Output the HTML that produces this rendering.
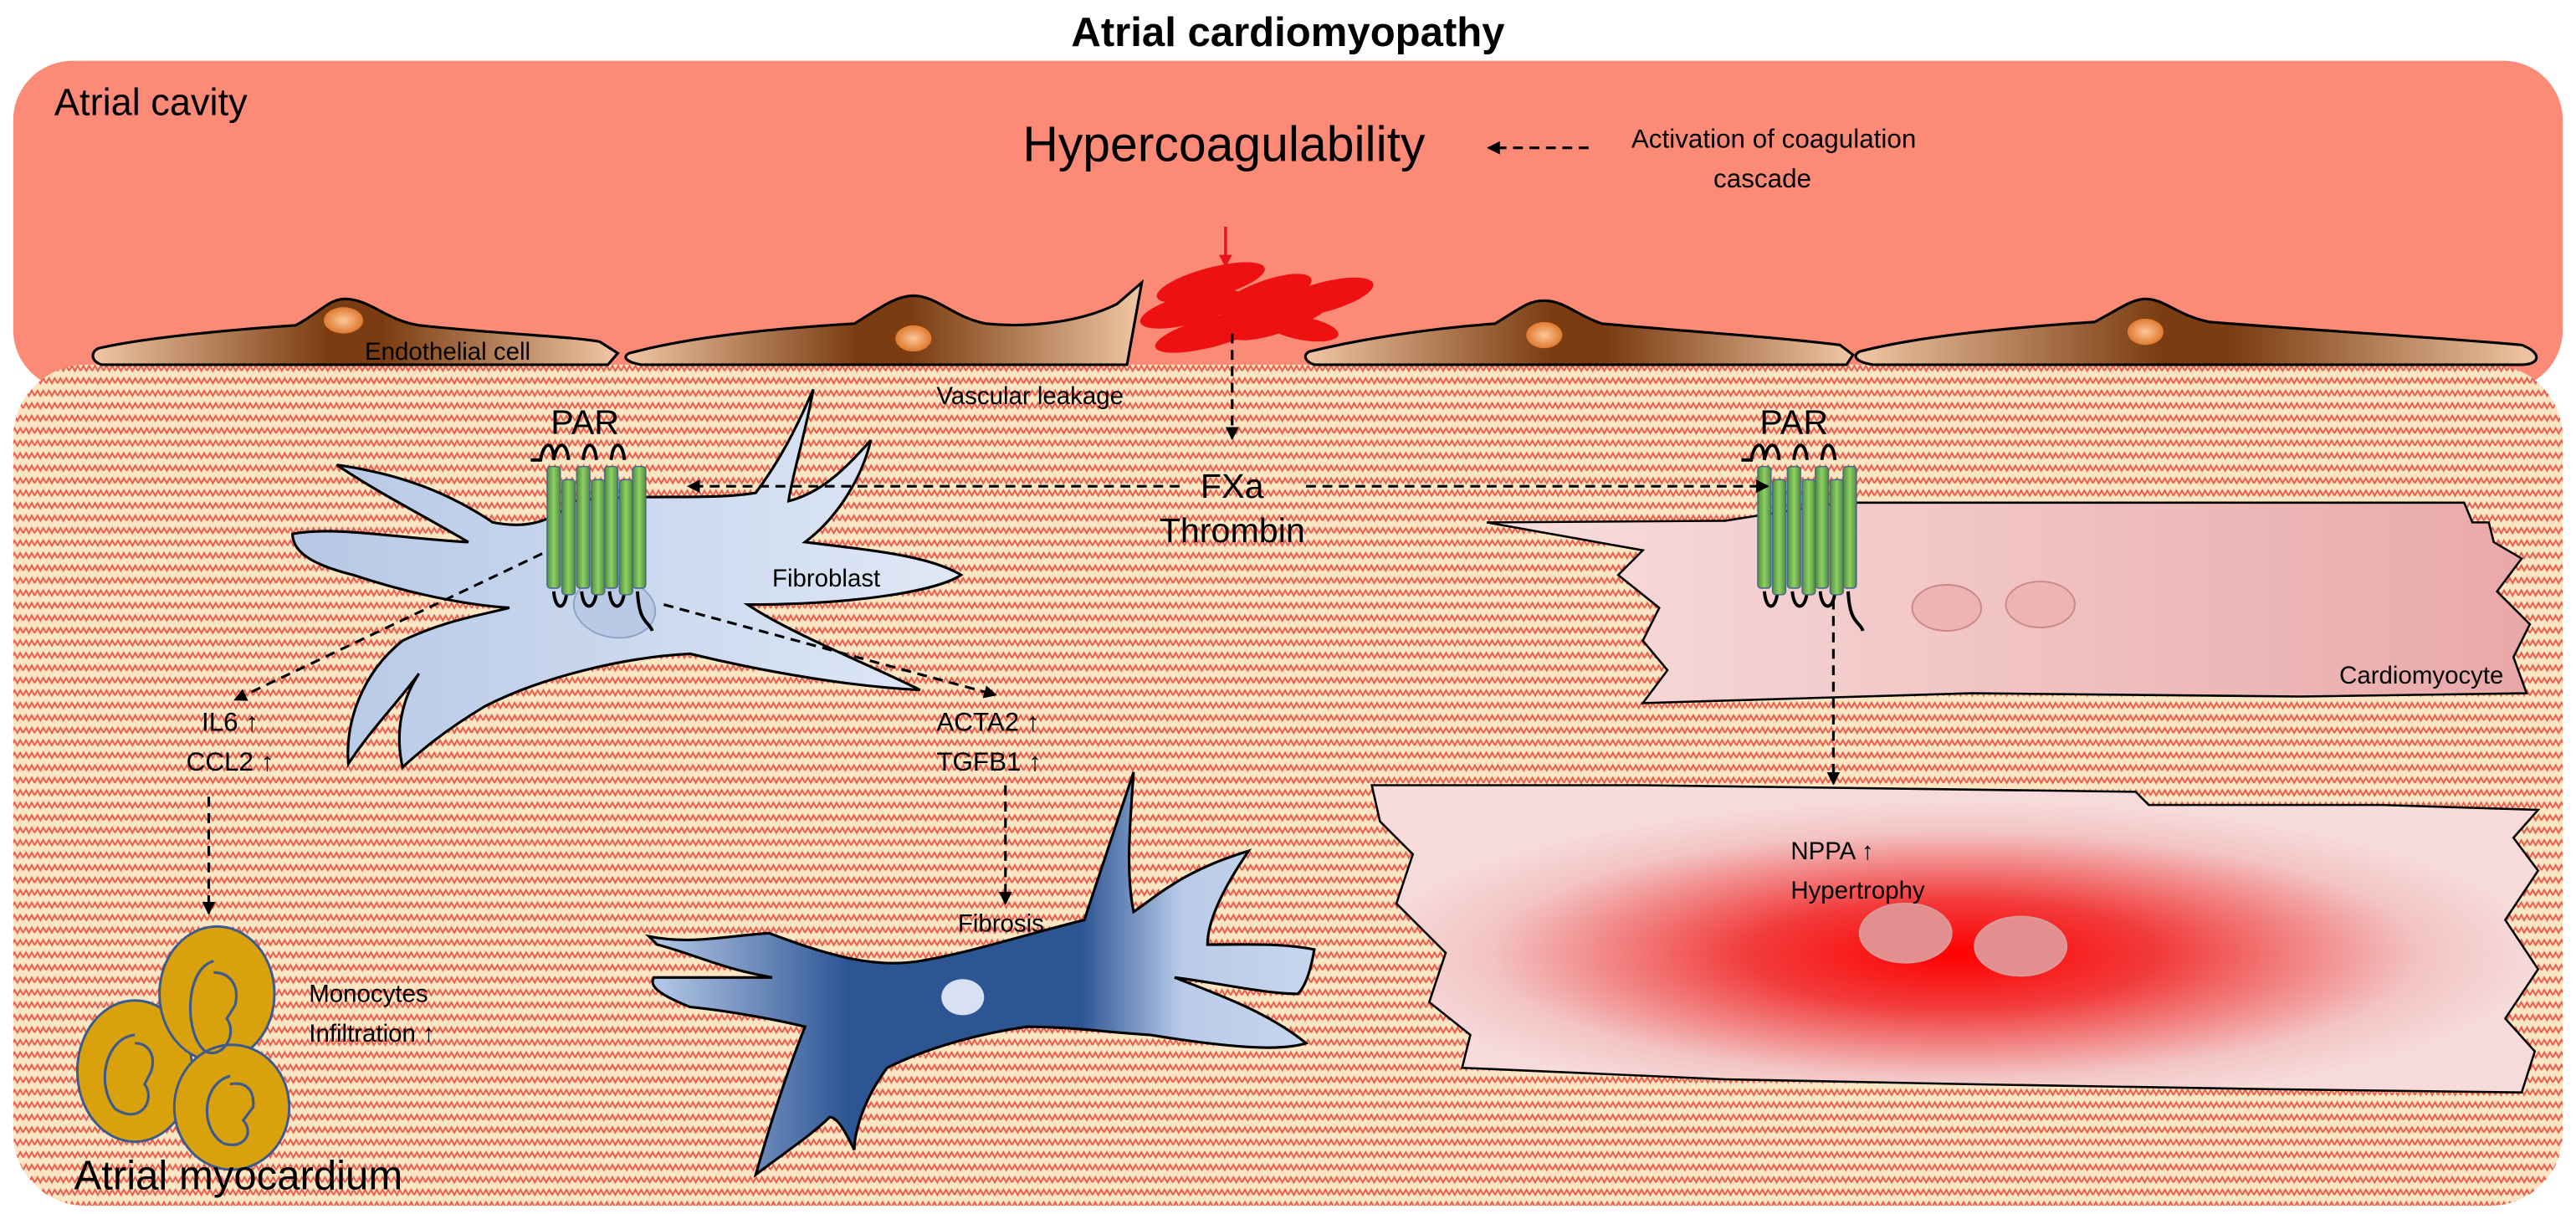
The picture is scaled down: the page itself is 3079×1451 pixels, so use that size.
<!DOCTYPE html>
<html><head><meta charset="utf-8"><style>
html,body{margin:0;padding:0;background:#fff;}
svg{display:block;}
text{font-family:"Liberation Sans",sans-serif;fill:#000;}
</style></head><body>
<svg width="3079" height="1451" viewBox="0 0 1568 739" xmlns="http://www.w3.org/2000/svg">
<defs>
<pattern id="zz" width="7" height="7.6" patternUnits="userSpaceOnUse">
<rect width="7" height="7.6" fill="#fbe6c4"/>
<path d="M0,5.4 L1.75,2.2 L3.5,5.4 L5.25,2.2 L7,5.4" fill="none" stroke="#ee5a4a" stroke-width="1"/>
</pattern>
<linearGradient id="endo" x1="0" x2="1" y1="0" y2="0">
<stop offset="0" stop-color="#f0c7a5"/><stop offset="0.45" stop-color="#7a3c10"/><stop offset="0.55" stop-color="#7a3c10"/><stop offset="1" stop-color="#f0c7a5"/>
</linearGradient>
<radialGradient id="nuc"><stop offset="0" stop-color="#fbc79a"/><stop offset="1" stop-color="#e07a30"/></radialGradient>
<linearGradient id="fib1" x1="0" x2="1"><stop offset="0" stop-color="#b6c8e6"/><stop offset="1" stop-color="#dfe8f6"/></linearGradient>
<linearGradient id="fib2" x1="0" x2="1"><stop offset="0" stop-color="#b9cbe9"/><stop offset="0.3" stop-color="#2d5594"/><stop offset="0.65" stop-color="#2d5594"/><stop offset="0.8" stop-color="#b9cbe9"/><stop offset="1" stop-color="#c7d6ef"/></linearGradient>
<linearGradient id="cm1" x1="0" x2="1"><stop offset="0" stop-color="#f8dede"/><stop offset="1" stop-color="#e9a8a8"/></linearGradient>
<radialGradient id="cm2" cx="0.5" cy="0.55" r="0.5"><stop offset="0" stop-color="#ff0000"/><stop offset="0.35" stop-color="#f23b3b"/><stop offset="0.8" stop-color="#f3c4c4"/><stop offset="1" stop-color="#f7dada"/></radialGradient>
<linearGradient id="grn" x1="0" x2="1"><stop offset="0" stop-color="#4f8f35"/><stop offset="0.5" stop-color="#8fcf6a"/><stop offset="1" stop-color="#4f8f35"/></linearGradient>
<marker id="ah" markerWidth="8" markerHeight="8" refX="7" refY="4" orient="auto" markerUnits="userSpaceOnUse"><path d="M0,0 L8,4 L0,8 Z" fill="#000"/></marker>
<marker id="ahr" markerWidth="8" markerHeight="8" refX="7" refY="4" orient="auto" markerUnits="userSpaceOnUse"><path d="M0,0 L8,4 L0,8 Z" fill="#e8141a"/></marker>
<g id="par">
<path d="M-32,-8 L-26,-8 C-24,-20 -18,-20 -18,-8 M-18,-8 C-16,-20 -10,-20 -9,-8 M0,-8 C1,-20 7,-20 8,-8 M17,-8 C18,-20 24,-20 25,-8" fill="none" stroke="#000" stroke-width="2"/>
<path d="M-18,72 C-17,84 -11,84 -10,72 M-1,72 C0,84 7,84 8,72 M16,72 C17,84 24,84 25,72 M33,72 C34,92 40,90 42,96" fill="none" stroke="#000" stroke-width="2"/>
<rect x="-22" y="-4" width="8" height="74" rx="2" fill="url(#grn)" stroke="#4a6a8a" stroke-width="0.8"/>
<rect x="-13" y="4" width="8" height="70" rx="2" fill="url(#grn)" stroke="#4a6a8a" stroke-width="0.8"/>
<rect x="-4" y="-4" width="8" height="74" rx="2" fill="url(#grn)" stroke="#4a6a8a" stroke-width="0.8"/>
<rect x="5" y="4" width="8" height="70" rx="2" fill="url(#grn)" stroke="#4a6a8a" stroke-width="0.8"/>
<rect x="13" y="-4" width="8" height="74" rx="2" fill="url(#grn)" stroke="#4a6a8a" stroke-width="0.8"/>
<rect x="22" y="4" width="8" height="70" rx="2" fill="url(#grn)" stroke="#4a6a8a" stroke-width="0.8"/>
<rect x="30" y="-4" width="8" height="74" rx="2" fill="url(#grn)" stroke="#4a6a8a" stroke-width="0.8"/>
</g>
</defs>

<text x="784" y="28" font-size="25" font-weight="bold" text-anchor="middle">Atrial cardiomyopathy</text>

<rect x="8" y="37" width="1552" height="200" rx="36" fill="#fb8a77"/>
<rect x="8" y="222" width="1552" height="512" rx="44" fill="url(#zz)"/>

<!-- endothelial cells -->
<path d="M60,212 C90,205 150,200 180,198 C195,190 200,182 210,182 C225,182 235,195 255,198 C300,203 350,205 365,208 L376,215 L370,222 L62,222 C55,220 55,214 60,212Z" fill="url(#endo)" stroke="#000" stroke-width="1.6"/>
<ellipse cx="209" cy="195" rx="12" ry="8" fill="url(#nuc)"/>
<path d="M383,215 C420,205 470,200 520,197 C535,188 545,180 556,180 C570,180 580,193 600,197 C630,200 660,195 680,185 L695,172 L686,222 L390,222 C380,220 379,217 383,215Z" fill="url(#endo)" stroke="#000" stroke-width="1.6"/>
<ellipse cx="556" cy="206" rx="11" ry="8" fill="url(#nuc)"/>
<path d="M797,214 C830,206 870,200 910,197 C925,188 930,183 940,183 C952,183 960,192 975,197 C1030,202 1080,205 1120,210 L1128,216 L1124,222 L800,222 C794,220 793,216 797,214Z" fill="url(#endo)" stroke="#000" stroke-width="1.6"/>
<ellipse cx="940" cy="204" rx="11" ry="8" fill="url(#nuc)"/>
<path d="M1132,214 C1170,204 1230,199 1275,196 C1290,188 1298,182 1306,182 C1318,182 1325,192 1345,196 C1420,202 1480,205 1535,210 C1548,215 1546,222 1535,222 L1140,222 C1128,220 1128,216 1132,214Z" fill="url(#endo)" stroke="#000" stroke-width="1.6"/>
<ellipse cx="1306" cy="202" rx="11" ry="8" fill="url(#nuc)"/>

<!-- RBC -->
<g fill="#ee1111">
<ellipse cx="737" cy="172" rx="34" ry="9" transform="rotate(-15 737 172)"/>
<ellipse cx="770" cy="180" rx="30" ry="9" transform="rotate(-20 770 180)"/>
<ellipse cx="805" cy="181" rx="32" ry="9" transform="rotate(-15 805 181)"/>
<ellipse cx="725" cy="188" rx="32" ry="9" transform="rotate(-15 725 188)"/>
<ellipse cx="780" cy="193" rx="33" ry="9" transform="rotate(-20 780 193)"/>
<ellipse cx="738" cy="202" rx="36" ry="9" transform="rotate(-15 738 202)"/>
<ellipse cx="793" cy="200" rx="22" ry="7" transform="rotate(10 793 200)"/>
</g>

<!-- fibroblast light -->
<path d="M205,283 C240,288 270,298 300,318 C320,322 335,318 350,305 C390,300 430,305 460,300 C475,280 485,260 495,237 C490,265 482,290 480,305 C500,300 515,285 530,268 C525,290 510,315 490,330 C530,335 565,338 585,350 C570,360 520,368 455,368 C480,385 530,405 560,420 C520,418 470,410 420,398 C380,400 330,412 295,430 C270,445 255,458 245,467 C240,445 245,425 255,410 C240,430 225,445 212,465 C210,440 220,410 245,390 C270,378 290,375 310,370 C280,368 245,360 215,350 C195,345 178,338 178,325 C205,320 245,328 285,330 C260,315 230,300 205,283Z" fill="url(#fib1)" stroke="#000" stroke-width="1.6"/>
<ellipse cx="374" cy="370" rx="25" ry="18" transform="rotate(10 374 370)" fill="#b9c9e6" stroke="#8fa3c2" stroke-width="1"/>

<!-- cardiomyocytes -->
<path d="M905,318 L1050,317 L1120,306 L1300,306 L1500,306 L1505,318 L1515,318 L1518,330 L1535,340 L1520,360 L1540,380 L1530,400 L1538,422 L1400,424 L1200,422 L1000,428 L1015,408 L1000,390 L1010,370 L985,350 L1000,335 Z" fill="url(#cm1)" stroke="#000" stroke-width="1.3"/>
<ellipse cx="1185" cy="370" rx="21" ry="14" fill="#eeb4b4" stroke="#c88" stroke-width="1"/>
<ellipse cx="1242" cy="368" rx="21" ry="14" fill="#eeb4b4" stroke="#c88" stroke-width="1"/>
<path d="M835,478 L1000,478 L1150,480 L1300,482 L1308,490 L1450,490 L1545,493 L1530,510 L1545,530 L1525,560 L1545,590 L1525,620 L1543,640 L1535,665 L1380,663 L1200,660 L1050,657 L890,650 L895,630 L870,610 L880,580 L850,550 L860,520 L840,500 Z" fill="url(#cm2)" stroke="#000" stroke-width="1.3"/>
<ellipse cx="1160" cy="568" rx="28" ry="18" fill="#e48f8f" stroke="#d99" stroke-width="1"/>
<ellipse cx="1230" cy="576" rx="28" ry="18" fill="#e48f8f" stroke="#d99" stroke-width="1"/>

<use href="#par" x="355" y="288"/>
<use href="#par" x="1092" y="288"/>

<!-- fibroblast dark -->
<path d="M395,570 C420,575 440,570 468,568 C500,580 530,590 560,585 C590,580 620,570 660,560 C670,530 680,500 690,470 C688,500 685,530 690,555 C705,545 720,530 760,518 C745,540 735,560 735,575 C760,575 780,574 800,578 C798,590 795,600 790,605 C770,605 740,598 715,595 C740,605 770,615 795,635 C780,640 750,638 700,630 C670,628 650,625 625,625 C590,630 560,640 540,650 C525,670 520,690 520,700 C515,690 510,680 505,680 C495,690 480,700 460,715 C470,680 480,650 490,625 C470,620 440,615 420,613 C400,605 395,600 398,595 C420,595 450,595 470,595 C440,590 420,580 400,575 Z" fill="url(#fib2)" stroke="#000" stroke-width="1.6"/>
<ellipse cx="586" cy="607" rx="13" ry="11" fill="#d7e1f3"/>

<!-- monocytes -->
<g fill="#d9a10c" stroke="#3b5a8f" stroke-width="1.5">
<ellipse cx="82" cy="652" rx="35" ry="43"/>
<ellipse cx="132" cy="605" rx="35" ry="41"/>
<ellipse cx="141" cy="674" rx="35" ry="38"/>
</g>
<g fill="none" stroke="#3b5a8f" stroke-width="1.6">
<path d="M82,630 C64,632 58,660 70,675 C85,685 95,670 88,660 L92,652 C95,642 90,635 82,635"/>
<path d="M130,585 C112,590 112,630 125,640 C135,645 145,630 138,620 L143,612 C146,600 140,592 130,592"/>
<path d="M140,655 C122,660 122,688 136,696 C148,700 155,690 148,682 L154,674 C155,664 150,658 140,660"/>
</g>

<!-- arrows -->
<g fill="none" stroke="#000" stroke-width="1.6" stroke-dasharray="6,4">
<line x1="967" y1="90" x2="906" y2="90" marker-end="url(#ah)"/>
<line x1="750" y1="203" x2="750" y2="267" marker-end="url(#ah)"/>
<line x1="718" y1="296" x2="419" y2="296" marker-end="url(#ah)"/>
<line x1="795" y1="296" x2="1076" y2="296" marker-end="url(#ah)"/>
<line x1="330" y1="337" x2="143" y2="426" marker-end="url(#ah)"/>
<line x1="404" y1="368" x2="606" y2="423" marker-end="url(#ah)"/>
<line x1="612" y1="478" x2="612" y2="550" marker-end="url(#ah)"/>
<line x1="127" y1="485" x2="127" y2="556" marker-end="url(#ah)"/>
<line x1="1116" y1="365" x2="1116" y2="477" marker-end="url(#ah)"/>
</g>
<line x1="746" y1="138" x2="746" y2="162" stroke="#e8141a" stroke-width="1.8" marker-end="url(#ahr)"/>

<!-- labels -->
<text x="33" y="70" font-size="23">Atrial cavity</text>
<text x="745" y="98" font-size="30" text-anchor="middle">Hypercoagulability</text>
<text x="993" y="90" font-size="16">Activation of coagulation</text>
<text x="1043" y="114" font-size="16">cascade</text>
<text x="222" y="219" font-size="15">Endothelial cell</text>
<text x="570" y="246" font-size="15">Vascular leakage</text>
<text x="356" y="264" font-size="21" text-anchor="middle">PAR</text>
<text x="1092" y="264" font-size="21" text-anchor="middle">PAR</text>
<text x="750" y="303" font-size="21" text-anchor="middle">FXa</text>
<text x="750" y="330" font-size="21" text-anchor="middle">Thrombin</text>
<text x="470" y="357" font-size="15">Fibroblast</text>
<text x="140" y="445" font-size="16" text-anchor="middle">IL6 ↑</text>
<text x="140" y="469" font-size="16" text-anchor="middle">CCL2 ↑</text>
<text x="570" y="445" font-size="16">ACTA2 ↑</text>
<text x="570" y="469" font-size="16">TGFB1 ↑</text>
<text x="583" y="567" font-size="15">Fibrosis</text>
<text x="1424" y="416" font-size="15">Cardiomyocyte</text>
<text x="1090" y="523" font-size="15">NPPA ↑</text>
<text x="1090" y="547" font-size="15">Hypertrophy</text>
<text x="188" y="610" font-size="15">Monocytes</text>
<text x="188" y="634" font-size="15">Infiltration ↑</text>
<text x="45" y="724" font-size="25">Atrial myocardium</text>
</svg>
</body></html>
